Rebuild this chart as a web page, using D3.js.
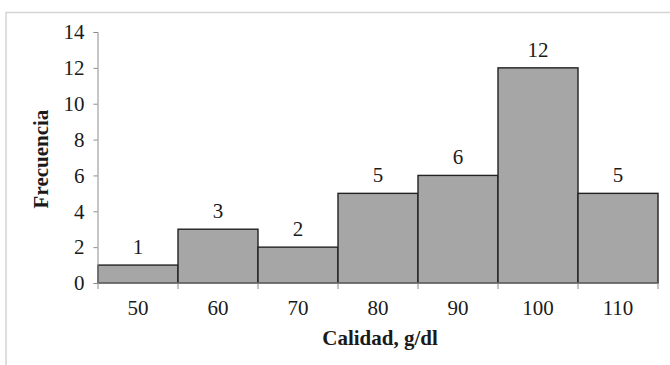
<!DOCTYPE html>
<html>
<head>
<meta charset="utf-8">
<script src="https://cdn.jsdelivr.net/npm/d3@7"></script>
<style>
  html, body { margin: 0; padding: 0; background: #fff; }
  svg { display: block; }
</style>
</head>
<body>
<svg id="chart" width="670" height="365"></svg>
<script>
// Histogram data: class marks and their frequencies
const classes = ["50", "60", "70", "80", "90", "100", "110"];
const frequencies = [1, 3, 2, 5, 6, 12, 5];
const yTicks = [0, 2, 4, 6, 8, 10, 12, 14];
const xTitle = "Calidad, g/dl";
const yTitle = "Frecuencia";

const FONT = "'Liberation Serif', 'Times New Roman', 'DejaVu Serif', serif";
const TEXT = "#1a1a1a";
const NUM_SIZE = 21;

const svg = d3.select("#chart");
const margin = { left: 98, top: 32 };
const W = 670, H = 365;
const plotW = 658 - margin.left;
const plotH = 283 - margin.top;

// Outer frame (top and left edges visible)
svg.append("path")
  .attr("d", `M6,${H} L6,12.5 L${W},12.5`)
  .attr("fill", "none")
  .attr("stroke", "#d4d4d4")
  .attr("stroke-width", 1.5);

const g = svg.append("g").attr("transform", `translate(${margin.left},${margin.top})`);

const x = d3.scaleBand().domain(classes).range([0, plotW]).padding(0);
const y = d3.scaleLinear().domain([0, 14]).range([plotH, 0]);

// Bars
g.selectAll("rect.bar")
  .data(frequencies)
  .join("rect")
  .attr("class", "bar")
  .attr("x", (d, i) => x(classes[i]))
  .attr("y", d => y(d))
  .attr("width", x.bandwidth())
  .attr("height", d => y(0) - y(d))
  .attr("fill", "#a6a6a6")
  .attr("stroke", "#222")
  .attr("stroke-width", 1.4);

// Y axis
const yAxis = g.append("g")
  .attr("transform", "translate(-0.5,0)")
  .call(d3.axisLeft(y).tickValues(yTicks).tickSize(4).tickPadding(9));
yAxis.attr("font-family", FONT).attr("font-size", NUM_SIZE);
yAxis.select(".domain").attr("stroke", "#8c8c8c");
yAxis.selectAll(".tick line").attr("stroke", "#8c8c8c");
yAxis.selectAll(".tick text").attr("fill", TEXT);

// X axis: tick marks at class boundaries, labels centred in each class
const xAxisG = g.append("g").attr("transform", `translate(0,${plotH})`);
xAxisG.append("line")
  .attr("x1", 0).attr("x2", plotW)
  .attr("stroke", "#8c8c8c");
const boundaries = d3.range(classes.length + 1).map(i => i * x.bandwidth());
xAxisG.selectAll("line.tk")
  .data(boundaries)
  .join("line")
  .attr("class", "tk")
  .attr("x1", d => d).attr("x2", d => d)
  .attr("y1", 0).attr("y2", 6)
  .attr("stroke", "#8c8c8c");
xAxisG.selectAll("text.lbl")
  .data(classes)
  .join("text")
  .attr("class", "lbl")
  .attr("x", d => x(d) + x.bandwidth() / 2)
  .attr("y", 32)
  .attr("text-anchor", "middle")
  .attr("font-family", FONT)
  .attr("font-size", NUM_SIZE)
  .attr("fill", TEXT)
  .text(d => d);

// Value labels above bars
g.selectAll("text.val")
  .data(frequencies)
  .join("text")
  .attr("class", "val")
  .attr("x", (d, i) => x(classes[i]) + x.bandwidth() / 2)
  .attr("y", d => y(d) - 11)
  .attr("text-anchor", "middle")
  .attr("font-family", FONT)
  .attr("font-size", NUM_SIZE)
  .attr("fill", TEXT)
  .text(d => d);

// Axis titles
svg.append("text")
  .attr("x", 380)
  .attr("y", 345)
  .attr("text-anchor", "middle")
  .attr("font-family", FONT)
  .attr("font-size", 21)
  .attr("font-weight", "bold")
  .attr("fill", TEXT)
  .text(xTitle);

svg.append("text")
  .attr("transform", "translate(48,159) rotate(-90)")
  .attr("text-anchor", "middle")
  .attr("font-family", FONT)
  .attr("font-size", 21)
  .attr("font-weight", "bold")
  .attr("fill", TEXT)
  .text(yTitle);
</script>
</body>
</html>
